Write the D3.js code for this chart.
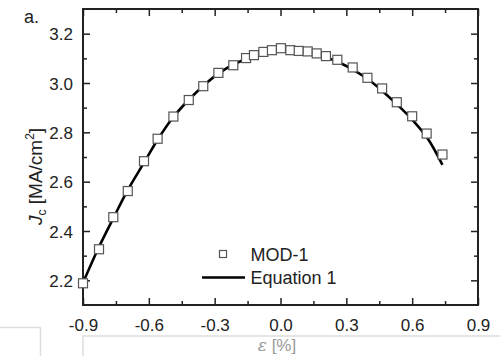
<!DOCTYPE html>
<html>
<head>
<meta charset="utf-8">
<script src="https://cdn.jsdelivr.net/npm/d3@7"></script>
<style>
  html, body { margin: 0; padding: 0; background: #fff; }
  svg { display: block; font-family: "Liberation Sans", Arial, sans-serif; }
</style>
</head>
<body>
<div id="chart"></div>
<script>
const STRAIN = [-0.9, -0.827, -0.762, -0.696, -0.622, -0.56, -0.488, -0.418, -0.352,
  -0.283, -0.215, -0.157, -0.121, -0.078, -0.039, 0.002, 0.045, 0.083, 0.124,
  0.165, 0.207, 0.259, 0.329, 0.396, 0.463, 0.53, 0.6, 0.666, 0.738];
const JC_MOD1 = [2.188, 2.326, 2.456, 2.562, 2.683, 2.774, 2.864, 2.931, 2.987,
  3.041, 3.072, 3.101, 3.113, 3.126, 3.133, 3.141, 3.133, 3.13, 3.128,
  3.12, 3.109, 3.094, 3.063, 3.021, 2.978, 2.922, 2.865, 2.795, 2.71];

const FIT_STRAIN = [-0.9, -0.83, -0.76, -0.7, -0.62, -0.56, -0.49, -0.42, -0.35,
  -0.28, -0.21, -0.15, -0.1, -0.05, 0.0, 0.05, 0.1, 0.15, 0.2, 0.26, 0.33,
  0.4, 0.46, 0.53, 0.6, 0.67, 0.738];
const FIT_JC = [2.19, 2.33, 2.455, 2.56, 2.68, 2.77, 2.86, 2.93, 2.99,
  3.04, 3.077, 3.1, 3.118, 3.13, 3.136, 3.136, 3.131, 3.121, 3.107, 3.086, 3.054,
  3.014, 2.971, 2.914, 2.852, 2.776, 2.668];

const X_TICKS = [-0.9, -0.6, -0.3, 0.0, 0.3, 0.6, 0.9];
const X_MINOR = [-0.75, -0.45, -0.15, 0.15, 0.45, 0.75];
const Y_TICKS = [2.2, 2.4, 2.6, 2.8, 3.0, 3.2];
const Y_MINOR = [2.3, 2.5, 2.7, 2.9, 3.1];
const LEGEND = ["MOD-1", "Equation 1"];

const WIDTH = 500;
const HEIGHT = 356;
const PLOT = { left: 83, right: 478, top: 9, bottom: 305 };
const MAJOR_TICK = 7;
const MINOR_TICK = 4;
const AXIS_COLOR = "#222";

// plain hyphen for negatives, like the original
const fmt = (d) => d.toFixed(1);

const svg = d3.select("#chart")
  .append("svg")
  .attr("width", WIDTH)
  .attr("height", HEIGHT)
  .attr("viewBox", [0, 0, WIDTH, HEIGHT]);

const x = d3.scaleLinear().domain([-0.9, 0.9]).range([PLOT.left, PLOT.right]);
const y = d3.scaleLinear().domain([2.1, 3.3]).range([PLOT.bottom, PLOT.top]);

// faint boxes left over from the cropped figure below the chart
svg.append("rect")
  .attr("x", -5).attr("y", 327.5).attr("width", 45.5).attr("height", 40)
  .attr("fill", "none").attr("stroke", "#ddd").attr("stroke-width", 1.5);
svg.append("rect")
  .attr("x", 83).attr("y", 336).attr("width", 430).attr("height", 40)
  .attr("fill", "none").attr("stroke", "#ddd").attr("stroke-width", 1.5);
const xTitle = svg.append("text")
  .attr("x", 277).attr("y", 351)
  .attr("text-anchor", "middle")
  .attr("fill", "#999")
  .attr("font-size", 17);
xTitle.append("tspan")
  .attr("font-family", "'DejaVu Serif', 'Liberation Serif', serif")
  .attr("font-style", "italic")
  .text("ε");
xTitle.append("tspan").text(" [%]");

// axes: ticks point inward on all four sides
function tickAxis(axisFn, scale, values, size) {
  return axisFn(scale).tickValues(values).tickSizeInner(-size).tickSizeOuter(0);
}

const bottomG = svg.append("g")
  .attr("transform", `translate(0,${PLOT.bottom})`)
  .call(tickAxis(d3.axisBottom, x, X_TICKS, MAJOR_TICK).tickFormat(fmt).tickPadding(10));
svg.append("g")
  .attr("transform", `translate(0,${PLOT.bottom})`)
  .call(tickAxis(d3.axisBottom, x, X_MINOR, MINOR_TICK).tickFormat(""));

svg.append("g")
  .attr("transform", `translate(0,${PLOT.top})`)
  .call(tickAxis(d3.axisTop, x, X_TICKS, MAJOR_TICK).tickFormat(""));
svg.append("g")
  .attr("transform", `translate(0,${PLOT.top})`)
  .call(tickAxis(d3.axisTop, x, X_MINOR, MINOR_TICK).tickFormat(""));

const leftG = svg.append("g")
  .attr("transform", `translate(${PLOT.left},0)`)
  .call(tickAxis(d3.axisLeft, y, Y_TICKS, MAJOR_TICK).tickFormat(fmt).tickPadding(10));
svg.append("g")
  .attr("transform", `translate(${PLOT.left},0)`)
  .call(tickAxis(d3.axisLeft, y, Y_MINOR, MINOR_TICK).tickFormat(""));

svg.append("g")
  .attr("transform", `translate(${PLOT.right},0)`)
  .call(tickAxis(d3.axisRight, y, Y_TICKS, MAJOR_TICK).tickFormat(""));
svg.append("g")
  .attr("transform", `translate(${PLOT.right},0)`)
  .call(tickAxis(d3.axisRight, y, Y_MINOR, MINOR_TICK).tickFormat(""));

svg.selectAll(".domain").remove();
svg.selectAll(".tick line").attr("stroke", AXIS_COLOR).attr("stroke-width", 1.5);
svg.selectAll(".tick text")
  .attr("fill", "#222")
  .attr("font-size", 17)
  .attr("font-family", "'Liberation Sans', Arial, sans-serif");
bottomG.selectAll(".tick text").attr("dy", "0.95em");
leftG.selectAll(".tick text").attr("dy", "0.36em");

svg.append("rect")
  .attr("x", PLOT.left).attr("y", PLOT.top)
  .attr("width", PLOT.right - PLOT.left)
  .attr("height", PLOT.bottom - PLOT.top)
  .attr("fill", "none")
  .attr("stroke", AXIS_COLOR)
  .attr("stroke-width", 2);

// fitted curve
const fitPoints = FIT_STRAIN.map((s, i) => [s, FIT_JC[i]]);
const line = d3.line()
  .x((d) => x(d[0]))
  .y((d) => y(d[1]))
  .curve(d3.curveCatmullRom);
svg.append("path")
  .datum(fitPoints)
  .attr("d", line)
  .attr("fill", "none")
  .attr("stroke", "#000")
  .attr("stroke-width", 2.6);

// measured points
const MARKER = 9;
svg.append("g")
  .selectAll("rect")
  .data(STRAIN.map((s, i) => [s, JC_MOD1[i]]))
  .join("rect")
  .attr("x", (d) => x(d[0]) - MARKER / 2)
  .attr("y", (d) => y(d[1]) - MARKER / 2)
  .attr("width", MARKER)
  .attr("height", MARKER)
  .attr("fill", "#fff")
  .attr("stroke", "#555")
  .attr("stroke-width", 1.2);

// legend
const legend = svg.append("g").attr("font-size", 18).attr("fill", "#222");
legend.append("rect")
  .attr("x", 219.5).attr("y", 250.5).attr("width", 7).attr("height", 7)
  .attr("fill", "#fff").attr("stroke", "#555").attr("stroke-width", 1.2);
legend.append("line")
  .attr("x1", 202).attr("x2", 245).attr("y1", 277.5).attr("y2", 277.5)
  .attr("stroke", "#000").attr("stroke-width", 2.6);
legend.selectAll("text")
  .data(LEGEND)
  .join("text")
  .attr("x", 250.5)
  .attr("y", (d, i) => 261 + i * 23)
  .text((d) => d);

// y-axis title: J_c [MA/cm^2]
const yTitle = svg.append("text")
  .attr("transform", "translate(42,225) rotate(-90)")
  .attr("font-size", 19)
  .attr("fill", "#222");
yTitle.append("tspan").attr("font-style", "italic").text("J");
yTitle.append("tspan").attr("font-size", 12).attr("dy", 4).text("c");
yTitle.append("tspan").attr("dy", -4).text(" [MA/cm");
yTitle.append("tspan").attr("font-size", 12).attr("dy", -8).text("2");
yTitle.append("tspan").attr("dy", 8).text("]");

svg.append("text")
  .attr("x", 24).attr("y", 23)
  .attr("font-size", 18)
  .attr("fill", "#222")
  .text("a.");
</script>
</body>
</html>
